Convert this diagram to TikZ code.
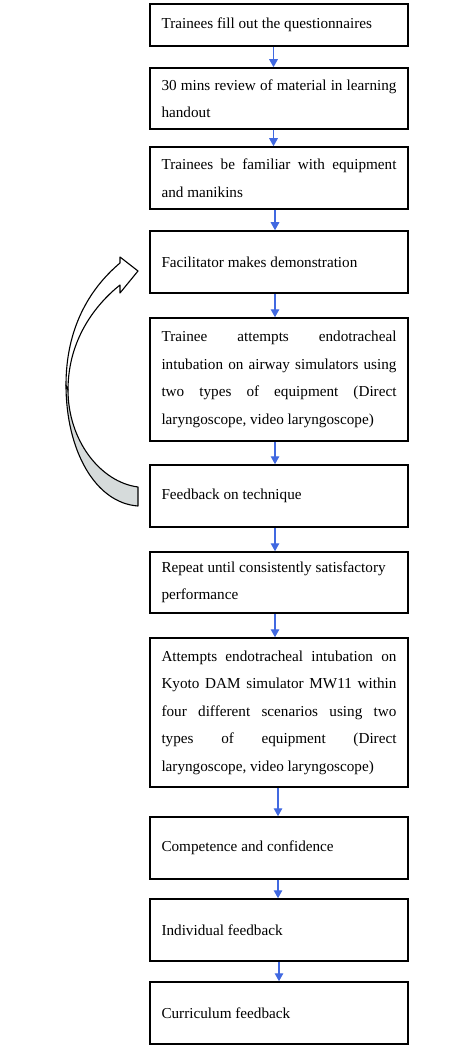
\documentclass[tikz,border=0pt]{standalone}
\usepackage{fontspec}
\setmainfont{Liberation Serif}
\usetikzlibrary{arrows.meta}
\definecolor{flowblue}{RGB}{65,105,225}
\definecolor{ribbongray}{RGB}{214,219,219}
\tikzset{
  stepbox/.style={draw=black, line width=1.5pt, fill=white, rectangle,
    text width=235pt, inner xsep=11.5pt, inner ysep=0pt, align=justify,
    font=\fontsize{15.2}{27.5}\selectfont},
  flowarrow/.style={draw=flowblue, line width=1.4pt, -{Triangle[width=8.5pt,length=8pt]}},
  ribbon/.style={draw=black, line width=1.1pt, line join=round}
}
\begin{document}
\begin{tikzpicture}[x=1pt,y=-1pt]
\useasboundingbox (0,0) rectangle (474,1048);

\node[stepbox, minimum height=42pt] (b1) at (279,25) {Trainees fill out the questionnaires};
\node[stepbox, minimum height=61pt] (b2) at (279,98.5) {30 mins review of material in learning\linebreak handout};
\node[stepbox, minimum height=62pt] (b3) at (279,178) {Trainees be familiar with equipment\linebreak and manikins};
\node[stepbox, minimum height=62pt] (b4) at (279,262) {Facilitator makes demonstration};
\node[stepbox, minimum height=123pt] (b5) at (279,379.5) {Trainee attempts endotracheal\linebreak intubation on airway simulators using\linebreak two types of equipment (Direct\linebreak laryngoscope, video laryngoscope)};
\node[stepbox, minimum height=62pt] (b6) at (279,496) {Feedback on technique};
\node[stepbox, minimum height=61pt] (b7) at (279,582.5) {Repeat until consistently satisfactory\\ performance};
\node[stepbox, minimum height=149pt] (b8) at (279,712.5) {Attempts endotracheal intubation on\linebreak Kyoto DAM simulator MW11 within\linebreak four different scenarios using two\linebreak types of equipment (Direct\linebreak laryngoscope, video laryngoscope)};
\node[stepbox, minimum height=62pt] (b9) at (279,848) {Competence and confidence};
\node[stepbox, minimum height=62pt] (b10) at (279,930) {Individual feedback};
\node[stepbox, minimum height=62pt] (b11) at (279,1013) {Curriculum feedback};

\draw[flowarrow] ([xshift=-5.5pt]b1.south) -- ([xshift=-5.5pt]b2.north);
\draw[flowarrow] ([xshift=-5.5pt]b2.south) -- ([xshift=-5.5pt]b3.north);
\draw[flowarrow] ([xshift=-4pt]b3.south) -- ([xshift=-4pt]b4.north);
\draw[flowarrow] ([xshift=-4pt]b4.south) -- ([xshift=-4pt]b5.north);
\draw[flowarrow] ([xshift=-4pt]b5.south) -- ([xshift=-4pt]b6.north);
\draw[flowarrow] ([xshift=-4pt]b6.south) -- ([xshift=-4pt]b7.north);
\draw[flowarrow] ([xshift=-4pt]b7.south) -- ([xshift=-4pt]b8.north);
\draw[flowarrow] ([xshift=-1pt]b8.south) -- ([xshift=-1pt]b9.north);
\draw[flowarrow] ([xshift=-1pt]b9.south) -- ([xshift=-1pt]b10.north);
\draw[flowarrow] (b10.south) -- (b11.north);

% curved feedback ribbon arrow
\path[ribbon, fill=ribbongray]
  (66,385) .. controls (66,450) and (95,503) .. (138,506)
  -- (138,487)
  .. controls (100,482) and (68,440) .. (68,390) -- cycle;
\path[ribbon, fill=white]
  (120,263) .. controls (88,290) and (66,330) .. (66,385)
  -- (68,390)
  .. controls (68,340) and (95,305) .. (120,285)
  -- (120,293) -- (138,271) -- (120,257) -- cycle;
\end{tikzpicture}
\end{document}
